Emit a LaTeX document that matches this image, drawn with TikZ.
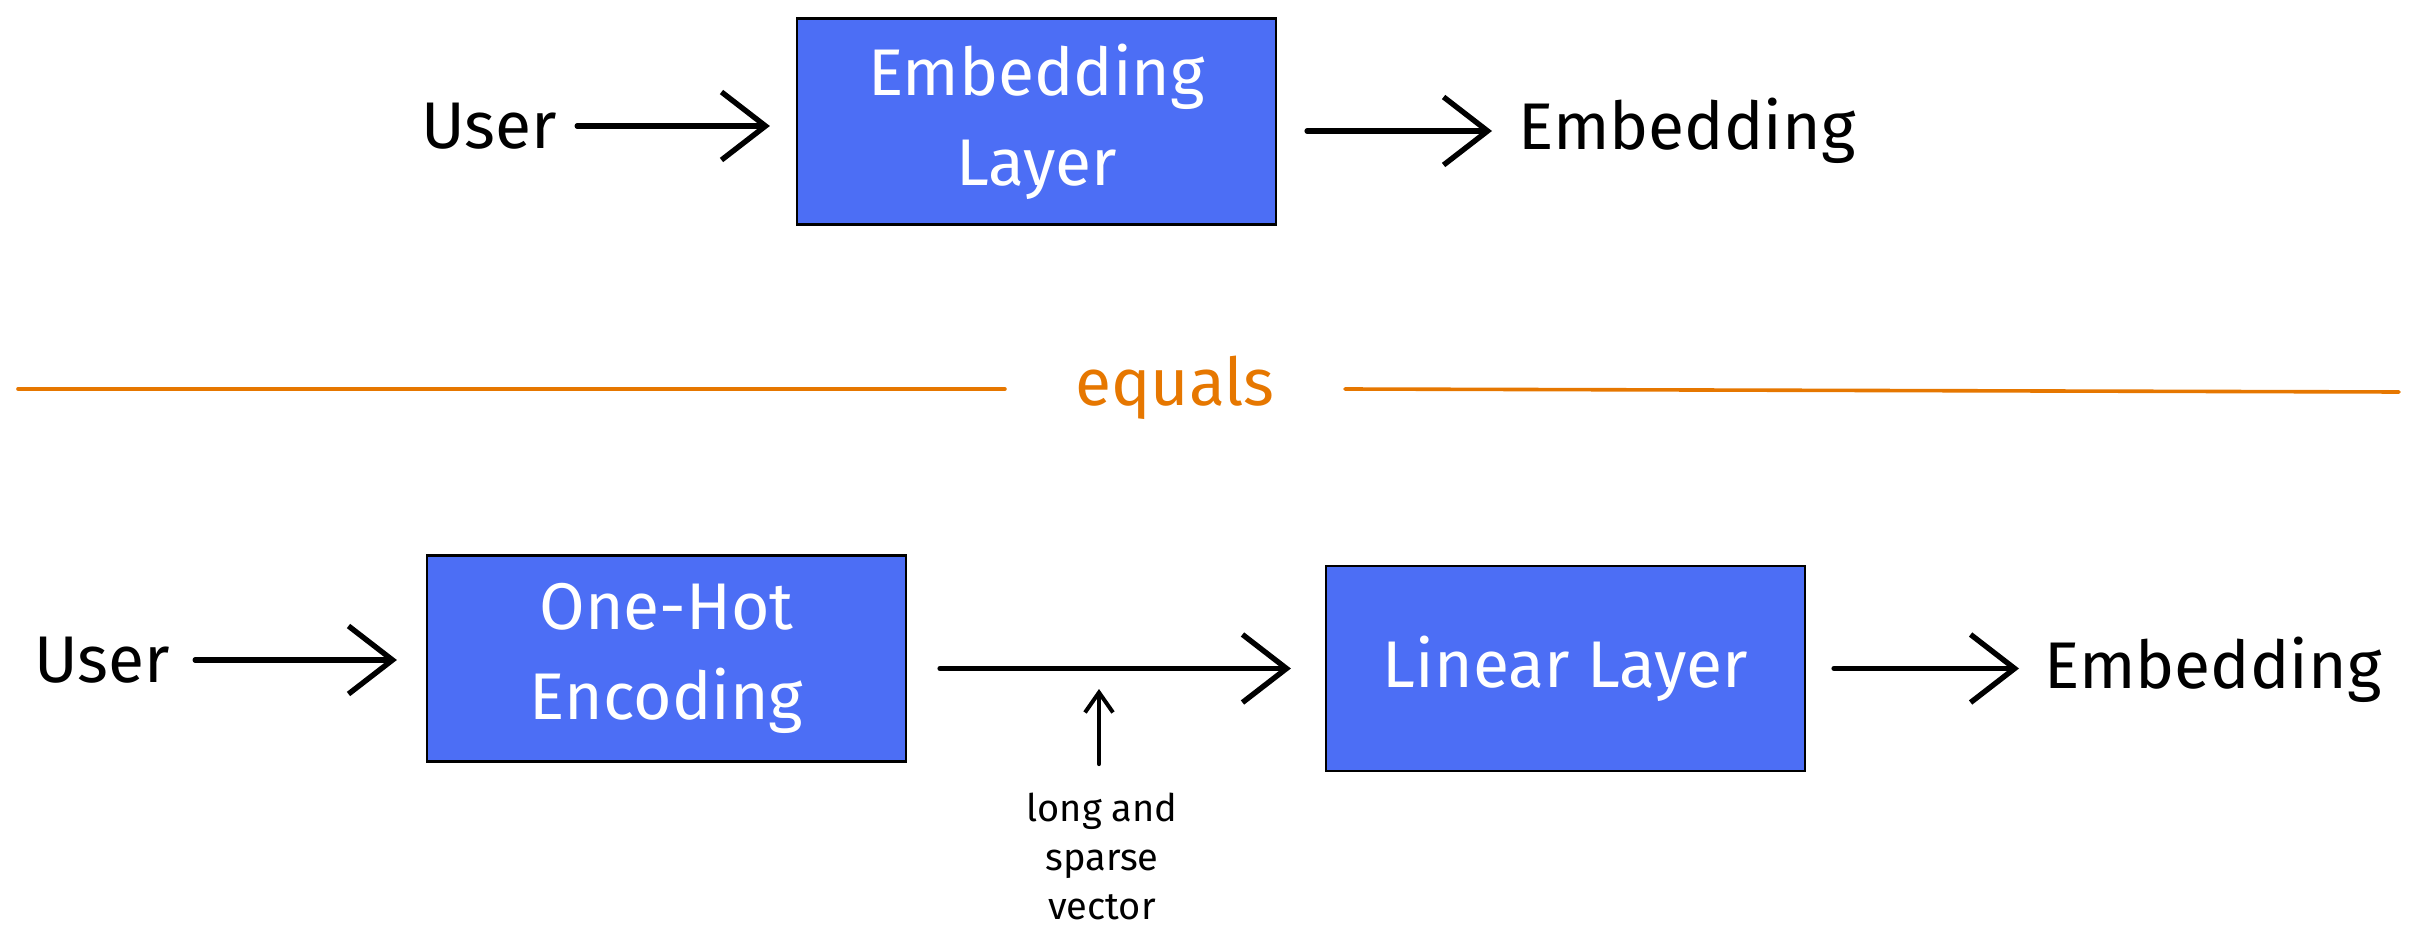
\documentclass[tikz,border=0pt]{standalone}
\usepackage{fontspec}
\setmainfont{Fira Sans}
\usetikzlibrary{arrows.meta}
\definecolor{exblue}{HTML}{4C6EF5}
\definecolor{exorange}{HTML}{E67700}
\begin{document}
\begin{tikzpicture}[x=0.5pt,y=-0.5pt,
  box/.style={draw=black, line width=1.1pt, fill=exblue, minimum width=239.5pt, minimum height=103pt, inner sep=0pt,
    text=white, align=center, font=\fontsize{33}{45}\selectfont},
  lbl/.style={font=\fontsize{33}{40}\selectfont, inner sep=0pt},
  conn/.style={line width=2.7pt, line cap=round, -{Straight Barb[length=22pt,width=34pt,line width=2.7pt]}},
  small/.style={line width=2pt, line cap=round, -{Straight Barb[length=10pt,width=14pt,line width=2pt]}},
  note/.style={font=\fontsize{19}{24.5}\selectfont, align=center, inner sep=0pt},
  sep/.style={draw=exorange, line width=1.8pt, line cap=round}
]
\useasboundingbox (0,0) rectangle (2417,952);

% top row
\node[lbl] (userA) at (489,126) {User};
\node[box] (embL) at (1036.5,121.5) {Embedding\\Layer};
\node[lbl, anchor=west] (embA) at (1518,131) {Embedding};
\draw[conn] ([xshift=10pt]userA.east) -- ([xshift=-13pt]embL.west |- userA.east);
\draw[conn] ([xshift=15pt]embL.east |- embA.west) -- ([xshift=-13pt]embA.west);

% separator
\node[lbl, text=exorange] (eq) at (1175,388) {equals};
\coordinate (sepL) at (18,389);
\coordinate (sepR) at (2399,392);
\draw[sep] (sepL) -- ([xshift=-35pt]eq.west |- sepL);
\draw[sep] ([xshift=35pt]eq.east |- 0,389) -- (sepR);

% bottom row
\node[lbl] (userB) at (102,660) {User};
\node[box] (onehot) at (666.5,658.5) {One-Hot\\Encoding};
\node[box, minimum height=102.5pt] (lin) at (1565.5,668.5) {Linear Layer};
\node[lbl, anchor=west] (embB) at (2044,670) {Embedding};
\draw[conn] ([xshift=12.5pt]userB.east) -- ([xshift=-14.5pt]onehot.west |- userB.east);
\draw[conn] ([xshift=16.5pt]onehot.east |- lin.west) -- ([xshift=-17pt]lin.west);
\draw[conn] ([xshift=14pt]lin.east) -- ([xshift=-12.5pt]embB.west |- lin.east);

% note
\node[note] (note) at (1102,856) {long and\\sparse\\vector};
\coordinate (vec) at (1099,689);
\draw[small] ([yshift=14pt]note.north -| vec) -- (vec);
\end{tikzpicture}
\end{document}
